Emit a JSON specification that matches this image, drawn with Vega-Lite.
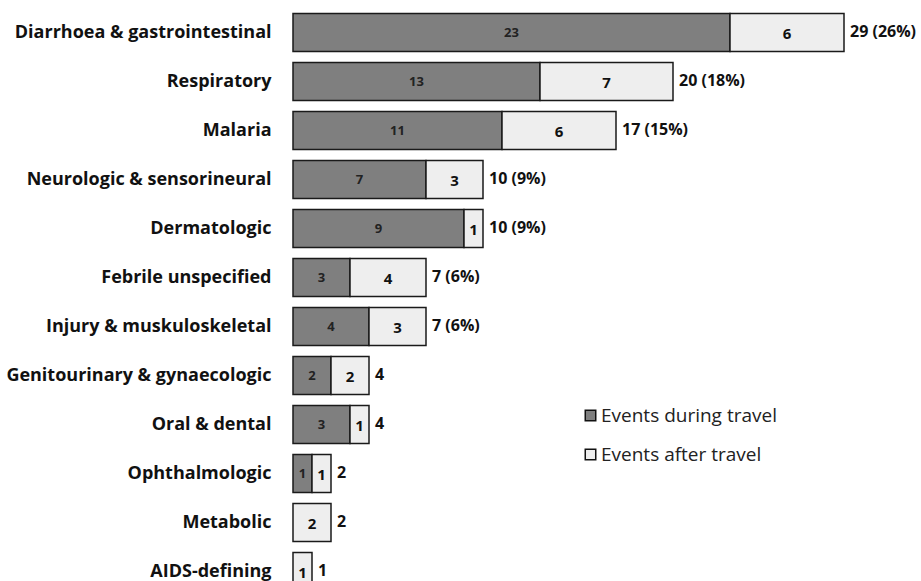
{
  "$schema": "https://vega.github.io/schema/vega-lite/v6.json",
  "autosize": "none",
  "width": 627,
  "height": 588,
  "padding": {"left": 293, "top": 8, "right": 1, "bottom": 0},
  "background": "white",
  "config": {"view": {"stroke": null}, "font": "Open Sans"},
  "datasets": {
    "bars": [
      {"category": "Diarrhoea & gastrointestinal", "type": "Events during travel", "ord": 1, "value": 23},
      {"category": "Diarrhoea & gastrointestinal", "type": "Events after travel", "ord": 2, "value": 6},
      {"category": "Respiratory", "type": "Events during travel", "ord": 1, "value": 13},
      {"category": "Respiratory", "type": "Events after travel", "ord": 2, "value": 7},
      {"category": "Malaria", "type": "Events during travel", "ord": 1, "value": 11},
      {"category": "Malaria", "type": "Events after travel", "ord": 2, "value": 6},
      {"category": "Neurologic & sensorineural", "type": "Events during travel", "ord": 1, "value": 7},
      {"category": "Neurologic & sensorineural", "type": "Events after travel", "ord": 2, "value": 3},
      {"category": "Dermatologic", "type": "Events during travel", "ord": 1, "value": 9},
      {"category": "Dermatologic", "type": "Events after travel", "ord": 2, "value": 1},
      {"category": "Febrile unspecified", "type": "Events during travel", "ord": 1, "value": 3},
      {"category": "Febrile unspecified", "type": "Events after travel", "ord": 2, "value": 4},
      {"category": "Injury & muskuloskeletal", "type": "Events during travel", "ord": 1, "value": 4},
      {"category": "Injury & muskuloskeletal", "type": "Events after travel", "ord": 2, "value": 3},
      {"category": "Genitourinary & gynaecologic", "type": "Events during travel", "ord": 1, "value": 2},
      {"category": "Genitourinary & gynaecologic", "type": "Events after travel", "ord": 2, "value": 2},
      {"category": "Oral & dental", "type": "Events during travel", "ord": 1, "value": 3},
      {"category": "Oral & dental", "type": "Events after travel", "ord": 2, "value": 1},
      {"category": "Ophthalmologic", "type": "Events during travel", "ord": 1, "value": 1},
      {"category": "Ophthalmologic", "type": "Events after travel", "ord": 2, "value": 1},
      {"category": "Metabolic", "type": "Events during travel", "ord": 1, "value": 0},
      {"category": "Metabolic", "type": "Events after travel", "ord": 2, "value": 2},
      {"category": "AIDS-defining", "type": "Events during travel", "ord": 1, "value": 0},
      {"category": "AIDS-defining", "type": "Events after travel", "ord": 2, "value": 1}
    ],
    "totals": [
      {"category": "Diarrhoea & gastrointestinal", "total": 29, "label": "29 (26%)"},
      {"category": "Respiratory", "total": 20, "label": "20 (18%)"},
      {"category": "Malaria", "total": 17, "label": "17 (15%)"},
      {"category": "Neurologic & sensorineural", "total": 10, "label": "10 (9%)"},
      {"category": "Dermatologic", "total": 10, "label": "10 (9%)"},
      {"category": "Febrile unspecified", "total": 7, "label": "7 (6%)"},
      {"category": "Injury & muskuloskeletal", "total": 7, "label": "7 (6%)"},
      {"category": "Genitourinary & gynaecologic", "total": 4, "label": "4"},
      {"category": "Oral & dental", "total": 4, "label": "4"},
      {"category": "Ophthalmologic", "total": 2, "label": "2"},
      {"category": "Metabolic", "total": 2, "label": "2"},
      {"category": "AIDS-defining", "total": 1, "label": "1"}
    ]
  },
  "encoding": {
    "y": {
      "field": "category", "type": "nominal", "sort": null,
      "scale": {"paddingInner": 0.22, "paddingOuter": 0.11},
      "axis": {"title": null, "domain": false, "ticks": false, "labelFont": "Open Sans", "labelFontWeight": "bold", "labelFontSize": 18, "labelColor": "#111", "labelPadding": 22, "labelLimit": 320}
    }
  },
  "layer": [
    {
      "data": {"name": "bars"},
      "transform": [{"filter": "datum.value > 0"}],
      "mark": {"type": "bar", "stroke": "#1a1a1a", "strokeWidth": 1.5},
      "encoding": {
        "x": {"field": "value", "type": "quantitative", "stack": "zero", "scale": {"domain": [0, 33], "nice": false}, "axis": null},
        "color": {
          "field": "type", "type": "nominal",
          "scale": {"domain": ["Events during travel", "Events after travel"], "range": ["#7f7f7f", "#eeeeee"]},
          "legend": {"orient": "none", "legendX": 288, "legendY": 398, "title": null, "labelFontSize": 19, "labelFont": "Open Sans", "labelColor": "#222", "labelLimit": 300, "symbolType": "square", "symbolSize": 110, "symbolStrokeColor": "#111", "symbolStrokeWidth": 1.5, "rowPadding": 19, "labelOffset": 1}
        },
        "order": {"field": "ord", "type": "quantitative"}
      }
    },
    {
      "data": {"name": "bars"},
      "transform": [
        {"filter": "datum.value > 0"},
        {"stack": "value", "groupby": ["category"], "sort": [{"field": "ord"}], "as": ["v0", "v1"]},
        {"calculate": "(datum.v0 + datum.v1) / 2", "as": "mid"},
        {"filter": "datum.ord == 1"}
      ],
      "mark": {"type": "text", "fontSize": 13, "fontWeight": "bold", "color": "#222", "baseline": "middle"},
      "encoding": {
        "x": {"field": "mid", "type": "quantitative", "scale": {"domain": [0, 33], "nice": false}},
        "text": {"field": "value", "type": "quantitative"}
      }
    },
    {
      "data": {"name": "bars"},
      "transform": [
        {"filter": "datum.value > 0"},
        {"stack": "value", "groupby": ["category"], "sort": [{"field": "ord"}], "as": ["v0", "v1"]},
        {"calculate": "(datum.v0 + datum.v1) / 2", "as": "mid"},
        {"filter": "datum.ord == 2"}
      ],
      "mark": {"type": "text", "fontSize": 15, "fontWeight": "bold", "color": "#111", "baseline": "middle", "dy": 1},
      "encoding": {
        "x": {"field": "mid", "type": "quantitative", "scale": {"domain": [0, 33], "nice": false}},
        "text": {"field": "value", "type": "quantitative"}
      }
    },
    {
      "data": {"name": "totals"},
      "mark": {"type": "text", "fontSize": 16, "fontWeight": "bold", "color": "#111", "align": "left", "baseline": "middle", "dx": 6, "dy": -1},
      "encoding": {
        "x": {"field": "total", "type": "quantitative", "scale": {"domain": [0, 33], "nice": false}},
        "text": {"field": "label", "type": "nominal"}
      }
    }
  ]
}
